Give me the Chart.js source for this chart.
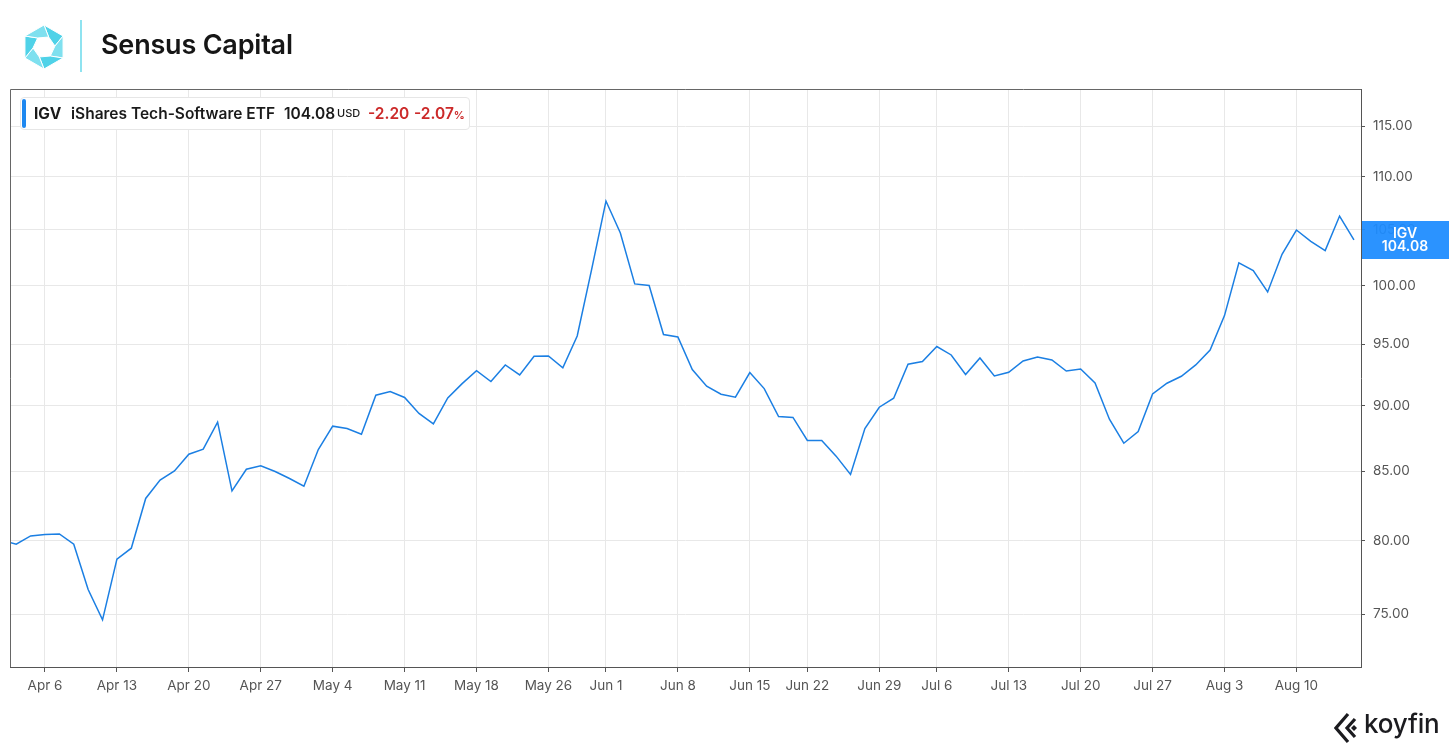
<!DOCTYPE html>
<html>
<head>
<meta charset="utf-8">
<title>IGV - Sensus Capital</title>
<script src="https://cdn.jsdelivr.net/npm/chart.js"></script>
<style>
  html, body { margin: 0; padding: 0; background: #fff; }
  body { width: 1456px; height: 752px; position: relative; overflow: hidden; font-family: Inter, "Noto Sans", sans-serif; color: #1a1a1a; }
  #chart { position: absolute; left: 0; top: 0; }
  #logo { position: absolute; left: 22px; top: 23px; }
  #divider { position: absolute; left: 80px; top: 20px; width: 2px; height: 52px; background: #8fe3f0; }
  #title { position: absolute; left: 101px; top: 31px; font-size: 27px; line-height: 27px; font-weight: 600; letter-spacing: -0.2px; color: #161616; }
  #legend { position: absolute; left: 20px; top: 97px; height: 31px; width: 448px; border: 1px solid #e6e6e6; border-radius: 4px; background: #fff; font-size: 15.5px; line-height: 31px; font-weight: 600; white-space: nowrap; }
  #legend .bar { position: absolute; left: 1px; top: 1px; width: 4px; height: 29px; background: #1e88f0; border-radius: 2px; }
  #legend span { position: absolute; top: 0; }
  #legend .red { color: #cc2a2a; }
  #legend .small { font-size: 11px; font-weight: 500; }
  #koyfin { position: absolute; left: 1334px; top: 712px; }
  #koyfinText { position: absolute; left: 1364px; top: 707px; font-size: 26px; line-height: 34px; font-weight: 500; color: #1b1b1f; letter-spacing: -0.2px; }
</style>
</head>
<body>
<canvas id="chart" width="1456" height="752"></canvas>

<svg id="logo" width="44" height="48" viewBox="0 0 44 48"></svg>
<div id="divider"></div>
<div id="title">Sensus Capital</div>

<div id="legend">
  <div class="bar"></div>
  <span style="left:13px;font-weight:700">IGV</span>
  <span style="left:50px">iShares Tech-Software ETF</span>
  <span style="left:263px">104.08</span>
  <span class="small" style="left:316px">USD</span>
  <span class="red" style="left:347px">-2.20</span>
  <span class="red" style="left:393px">-2.07<span class="small" style="position:static;font-weight:600">%</span></span>
</div>

<svg id="koyfin" width="28" height="32" viewBox="0 0 28 32">
  <path d="M14 2 L2 16 L14 30" fill="none" stroke="#1b1b1f" stroke-width="3.2" stroke-linejoin="miter"/>
  <path d="M21 7 L13 16 L21 25" fill="none" stroke="#1b1b1f" stroke-width="3.2" stroke-linejoin="miter"/>
  <path d="M20 13 L23 16 L20 19 L17 16 Z" fill="#1b1b1f"/>
</svg>
<div id="koyfinText">koyfin</div>

<script>
// IGV daily closes, Apr 1 - Aug 14 2020 (as plotted by koyfin)
const dates = [
  "Apr 1", "Apr 2", "Apr 3", "Apr 6", "Apr 7", "Apr 8", "Apr 9", "Apr 10", "Apr 13", "Apr 14",
  "Apr 15", "Apr 16", "Apr 17", "Apr 20", "Apr 21", "Apr 22", "Apr 23", "Apr 24", "Apr 27", "Apr 28",
  "Apr 29", "Apr 30",
  "May 1", "May 4", "May 5", "May 6", "May 7", "May 8", "May 11", "May 12", "May 13", "May 14",
  "May 15", "May 18", "May 19", "May 20", "May 21", "May 22", "May 26", "May 27", "May 28", "May 29",
  "Jun 1", "Jun 2", "Jun 3", "Jun 4", "Jun 5", "Jun 8", "Jun 9", "Jun 10", "Jun 11", "Jun 12",
  "Jun 15", "Jun 16", "Jun 17", "Jun 18", "Jun 22", "Jun 23", "Jun 24", "Jun 25", "Jun 26", "Jun 29",
  "Jun 30",
  "Jul 1", "Jul 2", "Jul 6", "Jul 7", "Jul 8", "Jul 9", "Jul 10", "Jul 13", "Jul 14", "Jul 15",
  "Jul 16", "Jul 17", "Jul 20", "Jul 21", "Jul 22", "Jul 23", "Jul 24", "Jul 27", "Jul 28", "Jul 29",
  "Jul 30", "Jul 31",
  "Aug 3", "Aug 4", "Aug 5", "Aug 6", "Aug 7", "Aug 10", "Aug 11", "Aug 12", "Aug 13", "Aug 14"
];

const closes = [
  80.02, 79.74, 80.32, 80.42, 80.46, 79.74, 76.64, 74.63, 78.70, 79.46,
  83.00, 84.34, 85.02, 86.28, 86.66, 88.73, 83.55, 85.15, 85.40, 84.98,
  84.46, 83.89,
  86.63, 88.42, 88.24, 87.80, 90.85, 91.14, 90.67, 89.41, 88.60, 90.64,
  91.78, 92.83, 91.95, 93.29, 92.48, 94.00, 94.03, 93.05, 95.69, 101.42,
  107.69, 104.72, 100.15, 100.01, 95.81, 95.60, 92.92, 91.57, 90.93, 90.69,
  92.67, 91.38, 89.17, 89.10, 87.32, 87.32, 86.13, 84.76, 88.24, 89.90,
  90.61,
  93.35, 93.57, 94.81, 94.11, 92.51, 93.86, 92.40, 92.69, 93.62, 93.95,
  93.70, 92.80, 92.96, 91.83, 88.96, 87.11, 88.01, 90.95, 91.81, 92.37,
  93.29, 94.52,
  97.41, 102.01, 101.33, 99.45, 102.78, 104.99, 103.96, 103.12, 106.28, 104.08
];

// week-start labels shown on the date axis
const tickDates = ["Apr 6", "Apr 13", "Apr 20", "Apr 27", "May 4", "May 11", "May 18", "May 26",
  "Jun 1", "Jun 8", "Jun 15", "Jun 22", "Jun 29", "Jul 6", "Jul 13", "Jul 20", "Jul 27", "Aug 3", "Aug 10"];

const priceTicks = [75, 80, 85, 90, 95, 100, 105, 110, 115];

const ticker = "IGV";

// visible window (the first session is partly off the left edge)
const X_MIN = 0.567;
const X_MAX = 94.49;
const Y_MIN = 71.61;
const Y_MAX = 118.79;

const LINE_BLUE = "#1b7fe3";
const GRID = "#e8e8e8";
const AXIS = "#555";

// header logo: a hexagonal ring cut into swirl segments
(function drawLogo() {
  const svg = document.getElementById("logo");
  const cx = 22, cy = 24, ro = 22, ri = 11;
  const pt = (r, deg) => [cx + r * Math.cos(deg * Math.PI / 180), cy + r * Math.sin(deg * Math.PI / 180)];
  let html = "";
  for (let i = 0; i < 6; i++) {
    const a0 = -90 + 60 * i, a1 = a0 + 60;
    const p = [pt(ro, a0), pt(ro, a1), pt(ri, a1 + 25), pt(ri, a0 + 25)];
    const fill = i % 2 ? "#7fe0ef" : "#4fd2e8";
    html += `<polygon points="${p.map((q) => q.join(",")).join(" ")}" fill="${fill}" stroke="#fff" stroke-width="1"/>`;
  }
  svg.innerHTML = html;
})();

const framePlugin = {
  id: "frame",
  afterDraw(chart) {
    const { ctx, chartArea: a } = chart;
    ctx.save();
    ctx.strokeStyle = "#666";
    ctx.lineWidth = 1;
    ctx.beginPath();
    ctx.moveTo(Math.round(a.left) + 0.5, a.bottom);
    ctx.lineTo(Math.round(a.left) + 0.5, Math.round(a.top) + 0.5);
    ctx.lineTo(a.right, Math.round(a.top) + 0.5);
    ctx.stroke();
    ctx.restore();
  },
};

const lastTagPlugin = {
  id: "lastTag",
  afterDraw(chart) {
    const { ctx, chartArea: a } = chart;
    const last = closes[closes.length - 1];
    const y = chart.scales.y.getPixelForValue(last);
    ctx.save();
    ctx.fillStyle = "rgba(30,140,255,0.94)";
    ctx.fillRect(a.right + 1, Math.round(y) - 19, 87, 38);
    ctx.fillStyle = "#fff";
    ctx.font = "600 14px Inter";
    ctx.textAlign = "center";
    ctx.textBaseline = "middle";
    ctx.fillText(ticker, a.right + 44, y - 6.5);
    ctx.fillText(last.toFixed(2), a.right + 44, y + 7);
    ctx.restore();
  },
};

const ctx = document.getElementById("chart").getContext("2d");

new Chart(ctx, {
  type: "line",
  data: {
    datasets: [
      {
        label: ticker,
        data: closes.map((v, i) => ({ x: i, y: v })),
        borderColor: LINE_BLUE,
        borderWidth: 1.5,
        pointRadius: 0,
        tension: 0,
        clip: 0,
      },
    ],
  },
  options: {
    responsive: false,
    animation: false,
    layout: { padding: { left: 10, top: 89, right: 0, bottom: 0 } },
    plugins: {
      legend: { display: false },
      tooltip: { enabled: false },
    },
    scales: {
      x: {
        type: "linear",
        min: X_MIN,
        max: X_MAX,
        afterBuildTicks: (scale) => {
          scale.ticks = tickDates.map((d) => ({ value: dates.indexOf(d) }));
        },
        afterFit: (scale) => {
          scale.height = 85;
        },
        ticks: {
          autoSkip: false,
          maxRotation: 0,
          padding: 6,
          color: AXIS,
          font: { family: "Inter", size: 13.5 },
          callback: (v) => dates[v],
        },
        grid: { color: GRID, tickColor: AXIS, tickLength: 5 },
        border: { display: true, color: AXIS },
      },
      y: {
        type: "logarithmic",
        position: "right",
        min: Y_MIN,
        max: Y_MAX,
        afterBuildTicks: (scale) => {
          scale.ticks = priceTicks.map((v) => ({ value: v }));
        },
        afterFit: (scale) => {
          scale.width = 95;
        },
        ticks: {
          padding: 8,
          color: AXIS,
          font: { family: "Inter", size: 13.5 },
          callback: (v) => Number(v).toFixed(2),
        },
        grid: { color: GRID, tickColor: AXIS, tickLength: 4 },
        border: { display: true, color: AXIS },
      },
    },
  },
  plugins: [framePlugin, lastTagPlugin],
});
</script>
</body>
</html>
